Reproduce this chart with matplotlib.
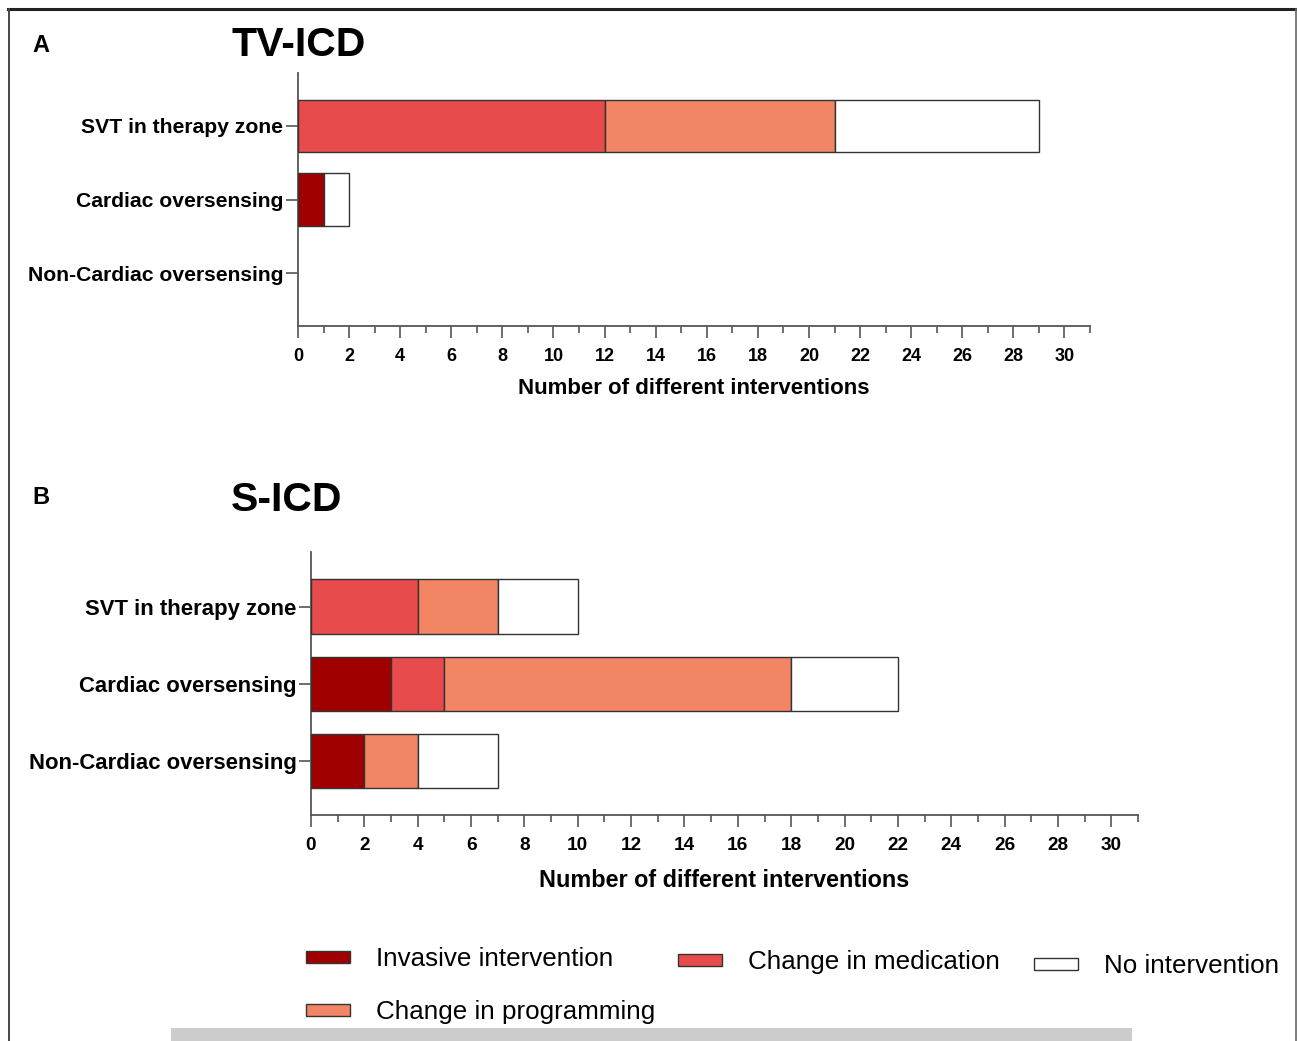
import matplotlib
matplotlib.use("Agg")
import matplotlib.pyplot as plt
from matplotlib.patches import Rectangle
from matplotlib.lines import Line2D
from matplotlib.ticker import MultipleLocator
import numpy as np

plt.rcParams['font.family'] = ['Liberation Sans', 'DejaVu Sans']

categories = ["SVT in therapy zone", "Cardiac oversensing", "Non-Cardiac oversensing"]
series_names = ["Invasive intervention", "Change in medication", "Change in programming", "No intervention"]
series_colors = ["#A00000", "#E84B4B", "#F28564", "#FFFFFF"]

# TV-ICD values per category (order of series_names)
tv_invasive = [0, 1, 0]
tv_medication = [12, 0, 0]
tv_programming = [9, 0, 0]
tv_none = [8, 1, 0]

# S-ICD values per category
s_invasive = [0, 3, 2]
s_medication = [4, 2, 0]
s_programming = [3, 13, 2]
s_none = [3, 4, 3]

x_ticks = list(range(0, 31, 2))

W, H = 1297, 1041
fig = plt.figure(figsize=(W / 100, H / 100), dpi=100)


def fx(px):
    return px / W


def fy(py):
    return 1 - py / H


def draw_panel(ax, data, ylim, scale=1.0):
    left = np.zeros(len(categories))
    y = np.arange(len(categories))
    for vals, color in zip(data, series_colors):
        vals = np.array(vals, dtype=float)
        mask = vals > 0
        ax.barh(y[mask], vals[mask], left=left[mask], height=0.71, color=color,
                edgecolor="#333333", linewidth=1.0, zorder=3)
        left += vals
    ax.set_xlim(0, 31)
    ax.set_ylim(*ylim)
    ax.set_yticks(y)
    ax.set_yticklabels(categories, fontsize=15.2 * scale, fontweight="bold")
    ax.set_xticks(x_ticks)
    ax.set_xticklabels([str(t) for t in x_ticks], fontsize=13 * scale, fontweight="bold")
    ax.xaxis.set_minor_locator(MultipleLocator(1))
    for s in ["top", "right"]:
        ax.spines[s].set_visible(False)
    for s in ["left", "bottom"]:
        ax.spines[s].set_color("#555555")
        ax.spines[s].set_linewidth(1.3)
    ax.tick_params(axis="x", which="major", length=8.5, width=1.2, color="#555555", pad=7 * scale)
    ax.tick_params(axis="x", which="minor", length=5, width=1.2, color="#555555")
    ax.tick_params(axis="y", which="major", length=8.5, width=1.2, color="#555555", pad=2)
    ax.set_xlabel("Number of different interventions", fontsize=16 * scale, fontweight="bold",
                  labelpad=10 * scale)


axA = fig.add_axes([fx(298), fy(326), fx(1090) - fx(298), fy(73) - fy(326)])
draw_panel(axA, [tv_invasive, tv_medication, tv_programming, tv_none], (2.72, -0.72))

axB = fig.add_axes([fx(311), fy(815), fx(1138) - fx(311), fy(552) - fy(815)])
draw_panel(axB, [s_invasive, s_medication, s_programming, s_none], (2.70, -0.71), scale=1.05)

# Panel letters and titles
fig.text(fx(32), fy(45), "A", fontsize=17, fontweight="bold", va="center", ha="left")
fig.text(fx(231), fy(45), "TV-ICD", fontsize=29.5, fontweight="bold", va="center", ha="left")
fig.text(fx(32), fy(497), "B", fontsize=17, fontweight="bold", va="center", ha="left")
fig.text(fx(231), fy(500), "S-ICD", fontsize=29.5, fontweight="bold", va="center", ha="left")

# Legend (manual layout)
legend_pos = [(306, 957), (306, 1010), (678, 960), (1034, 964)]  # invasive, programming, medication, none
legend_order = [0, 2, 1, 3]
for (px, py), idx in zip(legend_pos, legend_order):
    fig.patches.append(Rectangle((fx(px), fy(py + 6)), fx(44), 12 / H, transform=fig.transFigure,
                                 facecolor=series_colors[idx], edgecolor="#333333", linewidth=1.0))
    fig.text(fx(px + 70), fy(py + 2), series_names[idx], fontsize=18.7, va="center", ha="left")

# Frame lines
fig.add_artist(Line2D([fx(8), fx(1297)], [fy(9), fy(9)], transform=fig.transFigure, color="#222222", linewidth=2.2))
fig.add_artist(Line2D([fx(8.5), fx(8.5)], [fy(9), fy(1041)], transform=fig.transFigure, color="#444444", linewidth=1.4))
fig.add_artist(Line2D([fx(1296), fx(1296)], [fy(9), fy(1041)], transform=fig.transFigure, color="#666666", linewidth=1.2))
fig.patches.append(Rectangle((fx(171), 0), fx(1132) - fx(171), 13 / H, transform=fig.transFigure,
                             facecolor="#CCCCCC", edgecolor="none"))

fig.savefig("out.png", dpi=100)
